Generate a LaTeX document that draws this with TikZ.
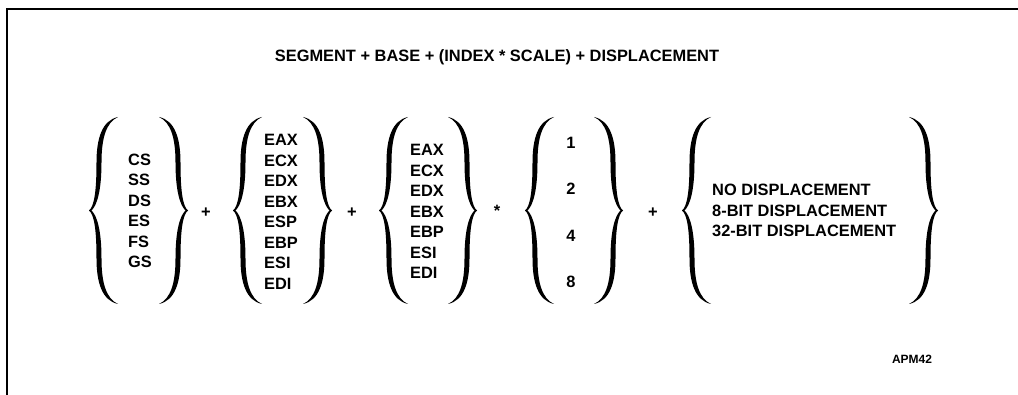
\documentclass[tikz,border=0pt]{standalone}
\usepackage{fontspec}
\setmainfont{Liberation Sans}

\tikzset{
    lbr/.pic={
        \fill (29,-93.5) .. controls (13,-90) and (7.5,-72) .. (7.5,-48)
            .. controls (7.5,-18) and (5,-4) .. (0,0)
            .. controls (5,4) and (7.5,18) .. (7.5,48)
            .. controls (7.5,72) and (13,90) .. (29,93.5)
            .. controls (17,88) and (12.5,72) .. (12.5,48)
            .. controls (12.5,20) and (8,5) .. (2.5,0)
            .. controls (8,-5) and (12.5,-20) .. (12.5,-48)
            .. controls (12.5,-72) and (17,-88) .. (29,-93.5) -- cycle;
    },
    list/.style={anchor=west, align=left, inner sep=0pt, font=\fontsize{16.4}{20.5}\selectfont\bfseries},
    op/.style={anchor=base, inner sep=0pt, font=\fontsize{16.4}{20}\selectfont\bfseries}
}

\begin{document}
\begin{tikzpicture}[x=1pt,y=-1pt]
    \useasboundingbox (0,0) rectangle (1018,395);
    \draw[line width=1.5pt] (7,395) -- (7,9) -- (1018,9);

    \node[op] (title) at (497,62) {SEGMENT + BASE + (INDEX * SCALE) + DISPLACEMENT};

    \node[list] (seg) at (128,211) {CS\\SS\\DS\\ES\\FS\\GS};
    \node[list] (base) at (264,212) {EAX\\ECX\\EDX\\EBX\\ESP\\EBP\\ESI\\EDI};
    \node[list] (index) at (410,211.5) {EAX\\ECX\\EDX\\EBX\\EBP\\ESI\\EDI};
    \node[list, anchor=center, align=center, font=\fontsize{16.4}{46.3}\selectfont\bfseries] (scale) at (571,212.5) {1\\2\\4\\8};
    \node[list] (disp) at (712,210.5) {NO DISPLACEMENT\\8-BIT DISPLACEMENT\\32-BIT DISPLACEMENT};

    \node[op] (plus1) at (206,218) {+};
    \node[op] (plus2) at (352,218) {+};
    \node[op] (times) at (497,217) {*};
    \node[op] (plus3) at (653,218) {+};

    \pic at (89,210.5) {lbr};
    \pic[xscale=-1] at (188,210.5) {lbr};
    \pic at (233,210.5) {lbr};
    \pic[xscale=-1] at (332,210.5) {lbr};
    \pic at (379,210.5) {lbr};
    \pic[xscale=-1] at (477,210.5) {lbr};
    \pic at (525,210.5) {lbr};
    \pic[xscale=-1] at (623,210.5) {lbr};
    \pic at (682,210.5) {lbr};
    \pic[xscale=-1] at (938,210.5) {lbr};

    \node[op, font=\fontsize{12}{12}\selectfont\bfseries] (apm) at (912,363) {APM42};
\end{tikzpicture}
\end{document}
